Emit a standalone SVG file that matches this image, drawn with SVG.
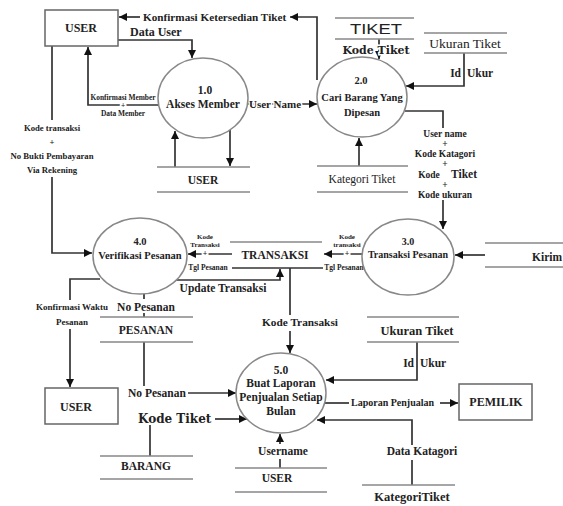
<svg xmlns="http://www.w3.org/2000/svg" width="563" height="506" viewBox="0 0 563 506">
<style>
.bg{fill:#fff}
.box{fill:#fff;stroke:#666;stroke-width:1.5}
.proc{fill:#fff;stroke:#888;stroke-width:1.5}
.st{stroke:#888;stroke-width:1.5;fill:none}
.c{fill:none;stroke:#333;stroke-width:1.7}
.a{marker-end:url(#ah)}
text{font-family:"Liberation Serif","Times New Roman",serif;font-weight:bold;fill:#222;text-anchor:middle}
.s{text-anchor:start}
.e{text-anchor:end}
.r{font-weight:normal}
.h{stroke:#fff;stroke-width:3;paint-order:stroke}
.dv{font-family:"DejaVu Serif",serif}
.sans{font-family:"Liberation Sans",Arial,sans-serif;font-weight:normal}
</style>
<defs>
<marker id="ah" markerUnits="userSpaceOnUse" markerWidth="9" markerHeight="9" refX="8" refY="4" orient="auto">
<path d="M0,0 L8,4 L0,8 z" fill="#111"/>
</marker>
</defs>
<rect class="bg" width="563" height="506"/>

<g id="connectors">
<path class="c a" d="M317,80 V17 H290"/>
<path class="c a" d="M140,17 H119"/>
<path class="c a" d="M118,40 H192 V58"/>
<path class="c a" d="M158,105 H88 V47"/>
<path class="c" d="M52,46 V120"/>
<path class="c a" d="M52,177 V253 H92"/>
<path class="c a" d="M175,167 V131"/>
<path class="c a" d="M230,130 V166"/>
<path class="c a" d="M247,104 H317"/>
<path class="c a" d="M379,39 V59"/>
<path class="c a" d="M464,53 V86 H406"/>
<path class="c" d="M405,111 H443 V128"/>
<path class="c a" d="M443,200 V229"/>
<path class="c a" d="M359,166 V138"/>
<path class="c a" d="M485,255 H455"/>
<path class="c a" d="M362,254 H324"/>
<path class="c a" d="M232,254 H188"/>
<path class="c" d="M232,268 H323"/>
<path class="c a" d="M173,280 H280 V269"/>
<path class="c" d="M290,268 V315"/>
<path class="c a" d="M290,331 V353"/>
<path class="c" d="M100,279 H70 V300"/>
<path class="c a" d="M70,329 V387"/>
<path class="c" d="M144,294 V299"/>
<path class="c" d="M144,313 V317"/>
<path class="c" d="M144,342 V386"/>
<path class="c a" d="M188,393 H236"/>
<path class="c a" d="M215,419 H247"/>
<path class="c" d="M150,425 V456"/>
<path class="c" d="M280,468 V459"/>
<path class="c a" d="M280,444 V434"/>
<path class="c a" d="M417,342 V380 H326"/>
<path class="c" d="M325,403 H349"/>
<path class="c a" d="M440,403 H458"/>
<path class="c" d="M412,485 V460"/>
<path class="c a" d="M412,445 V420 H317"/>
</g>

<g id="flow-labels">
<text class="s" x="143" y="21" font-size="11.2">Konfirmasi Ketersedian Tiket</text>
<text class="s" x="130" y="36" font-size="12">Data User</text>
<text x="123" y="100" font-size="7.4">Konfirmasi Member</text>
<text class="h" x="123" y="108" font-size="7.4">+</text>
<text x="123" y="116" font-size="7.4">Data Member</text>
<text x="52" y="131" font-size="8.7">Kode transaksi</text>
<text x="52" y="145" font-size="8.7">+</text>
<text x="52" y="159" font-size="8.7">No Bukti Pembayaran</text>
<text x="52" y="173" font-size="8.7">Via Rekening</text>
<text class="h" x="275" y="108" font-size="11">User Name</text>
<text class="e" x="461" y="77" font-size="11.5">Id</text>
<text class="s" x="467" y="77" font-size="11.5">Ukur</text>
<text x="445" y="137" font-size="9.5">User name</text>
<text x="445" y="147" font-size="9.5">+</text>
<text x="445" y="157" font-size="9.5">Kode Katagori</text>
<text x="445" y="167" font-size="9.5">+</text>
<text x="429" y="178" font-size="9.5">Kode</text>
<text x="464" y="178" font-size="11.5">Tiket</text>
<text x="445" y="188" font-size="9.5">+</text>
<text x="445" y="198" font-size="9.5">Kode ukuran</text>
<text x="205" y="239" font-size="7">Kode</text>
<text x="205" y="247" font-size="7">Transaksi</text>
<text class="h" x="205" y="256" font-size="8">+</text>
<text class="h" x="208" y="270" font-size="7.5">Tgl Pesanan</text>
<text x="347" y="239" font-size="7">Kode</text>
<text x="347" y="247" font-size="7">transaksi</text>
<text class="h" x="347" y="256" font-size="8">+</text>
<text class="h" x="344" y="270" font-size="7.5">Tgl Pesanan</text>
<text x="223" y="292" font-size="11.5">Update Transaksi</text>
<text x="300" y="326" font-size="11.3">Kode Transaksi</text>
<text x="72" y="310" font-size="9">Konfirmasi Waktu</text>
<text x="72" y="325" font-size="9">Pesanan</text>
<text x="146" y="311" font-size="11.5">No Pesanan</text>
<text class="s" x="128" y="397" font-size="11.5">No Pesanan</text>
<text class="s dv" x="138" y="423" font-size="12">Kode Tiket</text>
<text x="283" y="455" font-size="11.5">Username</text>
<text class="e" x="414" y="367" font-size="11.5">Id</text>
<text class="s" x="420" y="367" font-size="11.5">Ukur</text>
<text class="s" x="351" y="406" font-size="10">Laporan Penjualan</text>
<text x="422" y="455" font-size="11.5">Data Katagori</text>
</g>

<g id="user-top">
<rect class="box" x="45" y="10" width="73" height="36"/>
<text x="81" y="32" font-size="12">USER</text>
</g>

<g id="p1">
<ellipse class="proc" cx="203" cy="98" rx="45" ry="40"/>
<text x="205" y="94" font-size="11.5">1.0</text>
<text x="203" y="108" font-size="11.5">Akses Member</text>
</g>

<g id="ds-user1">
<path class="st" d="M157,167 H250 M157,192 H250"/>
<text x="203" y="184" font-size="11.5">USER</text>
</g>

<g id="p2">
<ellipse class="proc" cx="362" cy="97" rx="45" ry="40"/>
<text x="361" y="84" font-size="10.5">2.0</text>
<text x="362" y="101" font-size="10.5">Cari Barang Yang</text>
<text x="362" y="116" font-size="10.5">Dipesan</text>
</g>

<g id="ds-tiket">
<path class="st" d="M335,18 H414 M335,39 H414"/>
<text class="sans" x="376" y="34" font-size="15" textLength="52" lengthAdjust="spacingAndGlyphs">TIKET</text>
<text class="dv h" x="376" y="54" font-size="11">Kode Tiket</text>
</g>

<g id="ds-ukuran1">
<path class="st" d="M424,33 H507 M424,53 H507"/>
<text class="r" x="465" y="48" font-size="13.5">Ukuran Tiket</text>
</g>

<g id="ds-kategori1">
<path class="st" d="M317,166 H408 M317,192 H408"/>
<text class="r" x="362" y="183" font-size="11.5">Kategori Tiket</text>
</g>

<g id="p3">
<ellipse class="proc" cx="408" cy="257" rx="46" ry="38"/>
<text x="408" y="245" font-size="10">3.0</text>
<text x="408" y="258" font-size="10">Transaksi Pesanan</text>
</g>

<g id="ds-kirim">
<path class="st" d="M485,243 H563 M485,267 H563"/>
<text class="s" x="532" y="261" font-size="11.5">Kirim</text>
</g>

<g id="ds-transaksi">
<path class="st" d="M230,242 H322"/>
<text x="275" y="259" font-size="11.5">TRANSAKSI</text>
</g>

<g id="p4">
<ellipse class="proc" cx="140" cy="256" rx="47" ry="38"/>
<text x="140" y="245" font-size="10.5">4.0</text>
<text x="140" y="259" font-size="10.5">Verifikasi Pesanan</text>
</g>

<g id="ds-pesanan">
<path class="st" d="M100,317 H193 M100,342 H193"/>
<text x="146" y="334" font-size="11.5">PESANAN</text>
</g>

<g id="user-bottom">
<rect class="box" x="45" y="388" width="73" height="36"/>
<text x="76" y="411" font-size="12">USER</text>
</g>

<g id="p5">
<ellipse class="proc" cx="281" cy="393" rx="45" ry="40"/>
<text x="281" y="374" font-size="11.5">5.0</text>
<text x="281" y="387" font-size="11.5">Buat Laporan</text>
<text x="281" y="401" font-size="11.5">Penjualan Setiap</text>
<text x="281" y="415" font-size="11.5">Bulan</text>
</g>

<g id="ds-barang">
<path class="st" d="M100,456 H193 M100,479 H193"/>
<text x="146" y="470" font-size="11.5">BARANG</text>
</g>

<g id="ds-user3">
<path class="st" d="M235,468 H327 M235,492 H327"/>
<text x="277" y="482" font-size="11.5">USER</text>
</g>

<g id="ds-ukuran2">
<path class="st" d="M367,317 H459 M367,342 H459"/>
<text x="417" y="335" font-size="12.5">Ukuran Tiket</text>
</g>

<g id="pemilik">
<rect class="box" x="459" y="384" width="73" height="36"/>
<text x="496" y="406" font-size="12">PEMILIK</text>
</g>

<g id="ds-kategori2">
<path class="st" d="M362,485 H455"/>
<text x="412" y="501" font-size="12.5">KategoriTiket</text>
</g>
</svg>
